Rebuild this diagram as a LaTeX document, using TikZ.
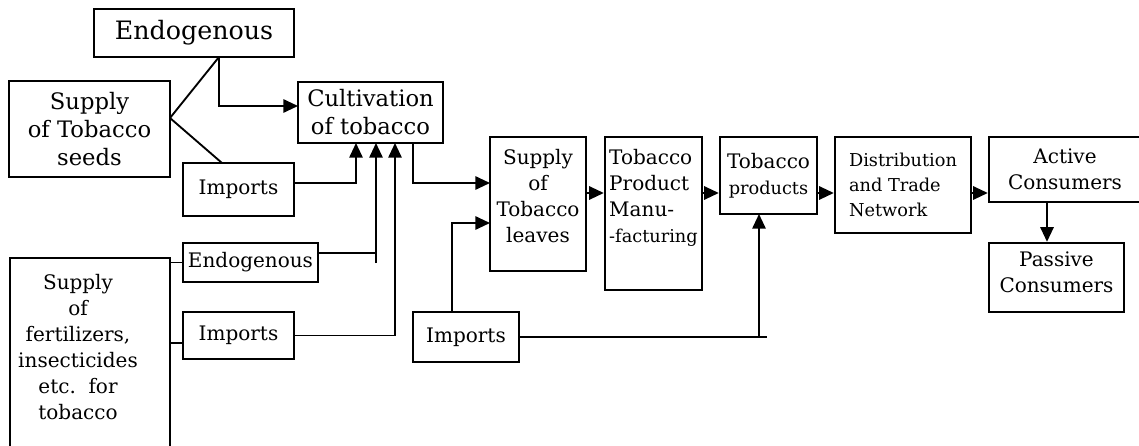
\documentclass[tikz,border=0pt]{standalone}
\usepackage{fontspec}
\setmainfont{DejaVu Serif}
\usetikzlibrary{arrows.meta,calc}
\newcommand{\smalltext}{\fontsize{13.3}{19}\selectfont}
\newcommand{\lift}[3][c]{\raisebox{#2}[0pt][0pt]{\begin{tabular}{@{}#1@{}}#3\end{tabular}}}
\tikzset{
    block/.style={
           draw=black, line width=1.8pt,
           inner sep=0pt,
           align=center,
           font=\fontsize{15}{19.5}\selectfont
           },
    bigtext/.style={
           font=\fontsize{19}{23}\selectfont
           },
    midtext/.style={
           font=\fontsize{17}{21}\selectfont
           }
}

\begin{document}
\begin{tikzpicture}[x=0.75pt, y=-0.75pt, line width=1.4pt, >={Triangle[length=11pt,width=10pt]}]
\useasboundingbox (0,0) rectangle (1139,446);
\clip (0,0) rectangle (1139,446);
% seeds side
\node[block, bigtext, minimum width=150pt, minimum height=36pt] (endotop) at (194,33) {Endogenous};
\node[block, midtext, minimum width=120.75pt, minimum height=72pt] (seeds) at (89.5,129) {Supply\\of Tobacco\\seeds};
\node[block, midtext, minimum width=108.75pt, minimum height=45.75pt] (cultiv) at (370.5,112.5) {Cultivation\\of tobacco};
\node[block, minimum width=83.25pt, minimum height=39.75pt] (impseed) at (238.5,189.5) {Imports};
% fertilizers side
\node[block, minimum width=120pt, minimum height=144pt] (fert) at (90,354) {\hspace*{-18pt}\lift{0pt}{Supply\\of\\fertilizers,\\insecticides\\etc.~~for\\tobacco}};
\node[block, minimum width=101.25pt, minimum height=29.25pt] (endofert) at (250.5,262.5) {Endogenous};
\node[block, minimum width=83.25pt, minimum height=35.25pt] (impfert) at (238.5,335.5) {Imports};
% main chain
\node[block, minimum width=72pt, minimum height=100.5pt] (leaves) at (538,204) {\lift{1pt}{Supply\\of\\Tobacco\\leaves}};
\node[block, minimum width=79.5pt, minimum height=37.5pt] (impleaf) at (466,337) {Imports};
\node[block, minimum width=72.75pt, minimum height=114.75pt] (manuf) at (653.5,213.5) {\lift[l]{8pt}{Tobacco\\Product\\Manu-\\{\smalltext -facturing}}};
\node[block, minimum width=72.75pt, minimum height=57.75pt] (prod) at (768.5,175.5) {Tobacco\\{\smalltext products}};
\node[block, font=\smalltext, align=left, minimum width=102pt, minimum height=72pt] (distr) at (903,185) {Distribution\\and Trade\\Network};
\node[block, minimum width=114pt, minimum height=48.75pt] (active) at (1065,169.5) {Active\\Consumers};
\node[block, minimum width=101.25pt, minimum height=51.75pt] (passive) at (1056.5,277.5) {\lift{-1.5pt}{Passive\\Consumers}};

% joints
\coordinate (sj) at (170,118);
\coordinate (ej) at (219,57);
\coordinate (ij) at (222,163);
\coordinate (cw) at (298,106);
\coordinate (c1) at (356,143);
\coordinate (c2) at (376,143);
\coordinate (c3) at (395,143);
\coordinate (ia) at (294,183);
\coordinate (eb) at (318,253);
\coordinate (c2b) at (376,263);
\coordinate (f2) at (170,343);
\coordinate (f2e) at (183,343);
\coordinate (cd) at (413,143);
\coordinate (la) at (490,183);
\coordinate (iu) at (452,312);
\coordinate (lb) at (490,223);
\coordinate (pj) at (759,214);
\coordinate (pb) at (759,337);
\coordinate (pe) at (767,337);
\coordinate (row) at (0,193);
\coordinate (pa) at (1047,0);

\draw (sj) -- (ej);
\draw (sj) -- (ij);
\draw[->] (ej) |- (cw);
\draw[->] (ia) -| (c1);
\draw (eb) -| (c2 |- eb);
\draw[->] (c2b) -- (c2);
\draw[->] (impfert.east) -| (c3);
\draw (fert.east |- endofert.west) -- (endofert.west);
\draw (f2) -- (f2e);
\draw[->] (cd) |- (la);
\draw[->] (iu) |- (lb);
\draw (impleaf.east) -- (pe);
\draw[->] (pb) -- (pj);
\draw[->] (leaves.east |- row) -- (manuf.west |- row);
\draw[->] (manuf.east |- row) -- (prod.west |- row);
\draw[->] (prod.east |- row) -- (distr.west |- row);
\draw[->] (distr.east |- row) -- (active.west |- row);
\draw[->] (active.south -| pa) -- (passive.north -| pa);
\end{tikzpicture}
\end{document}
